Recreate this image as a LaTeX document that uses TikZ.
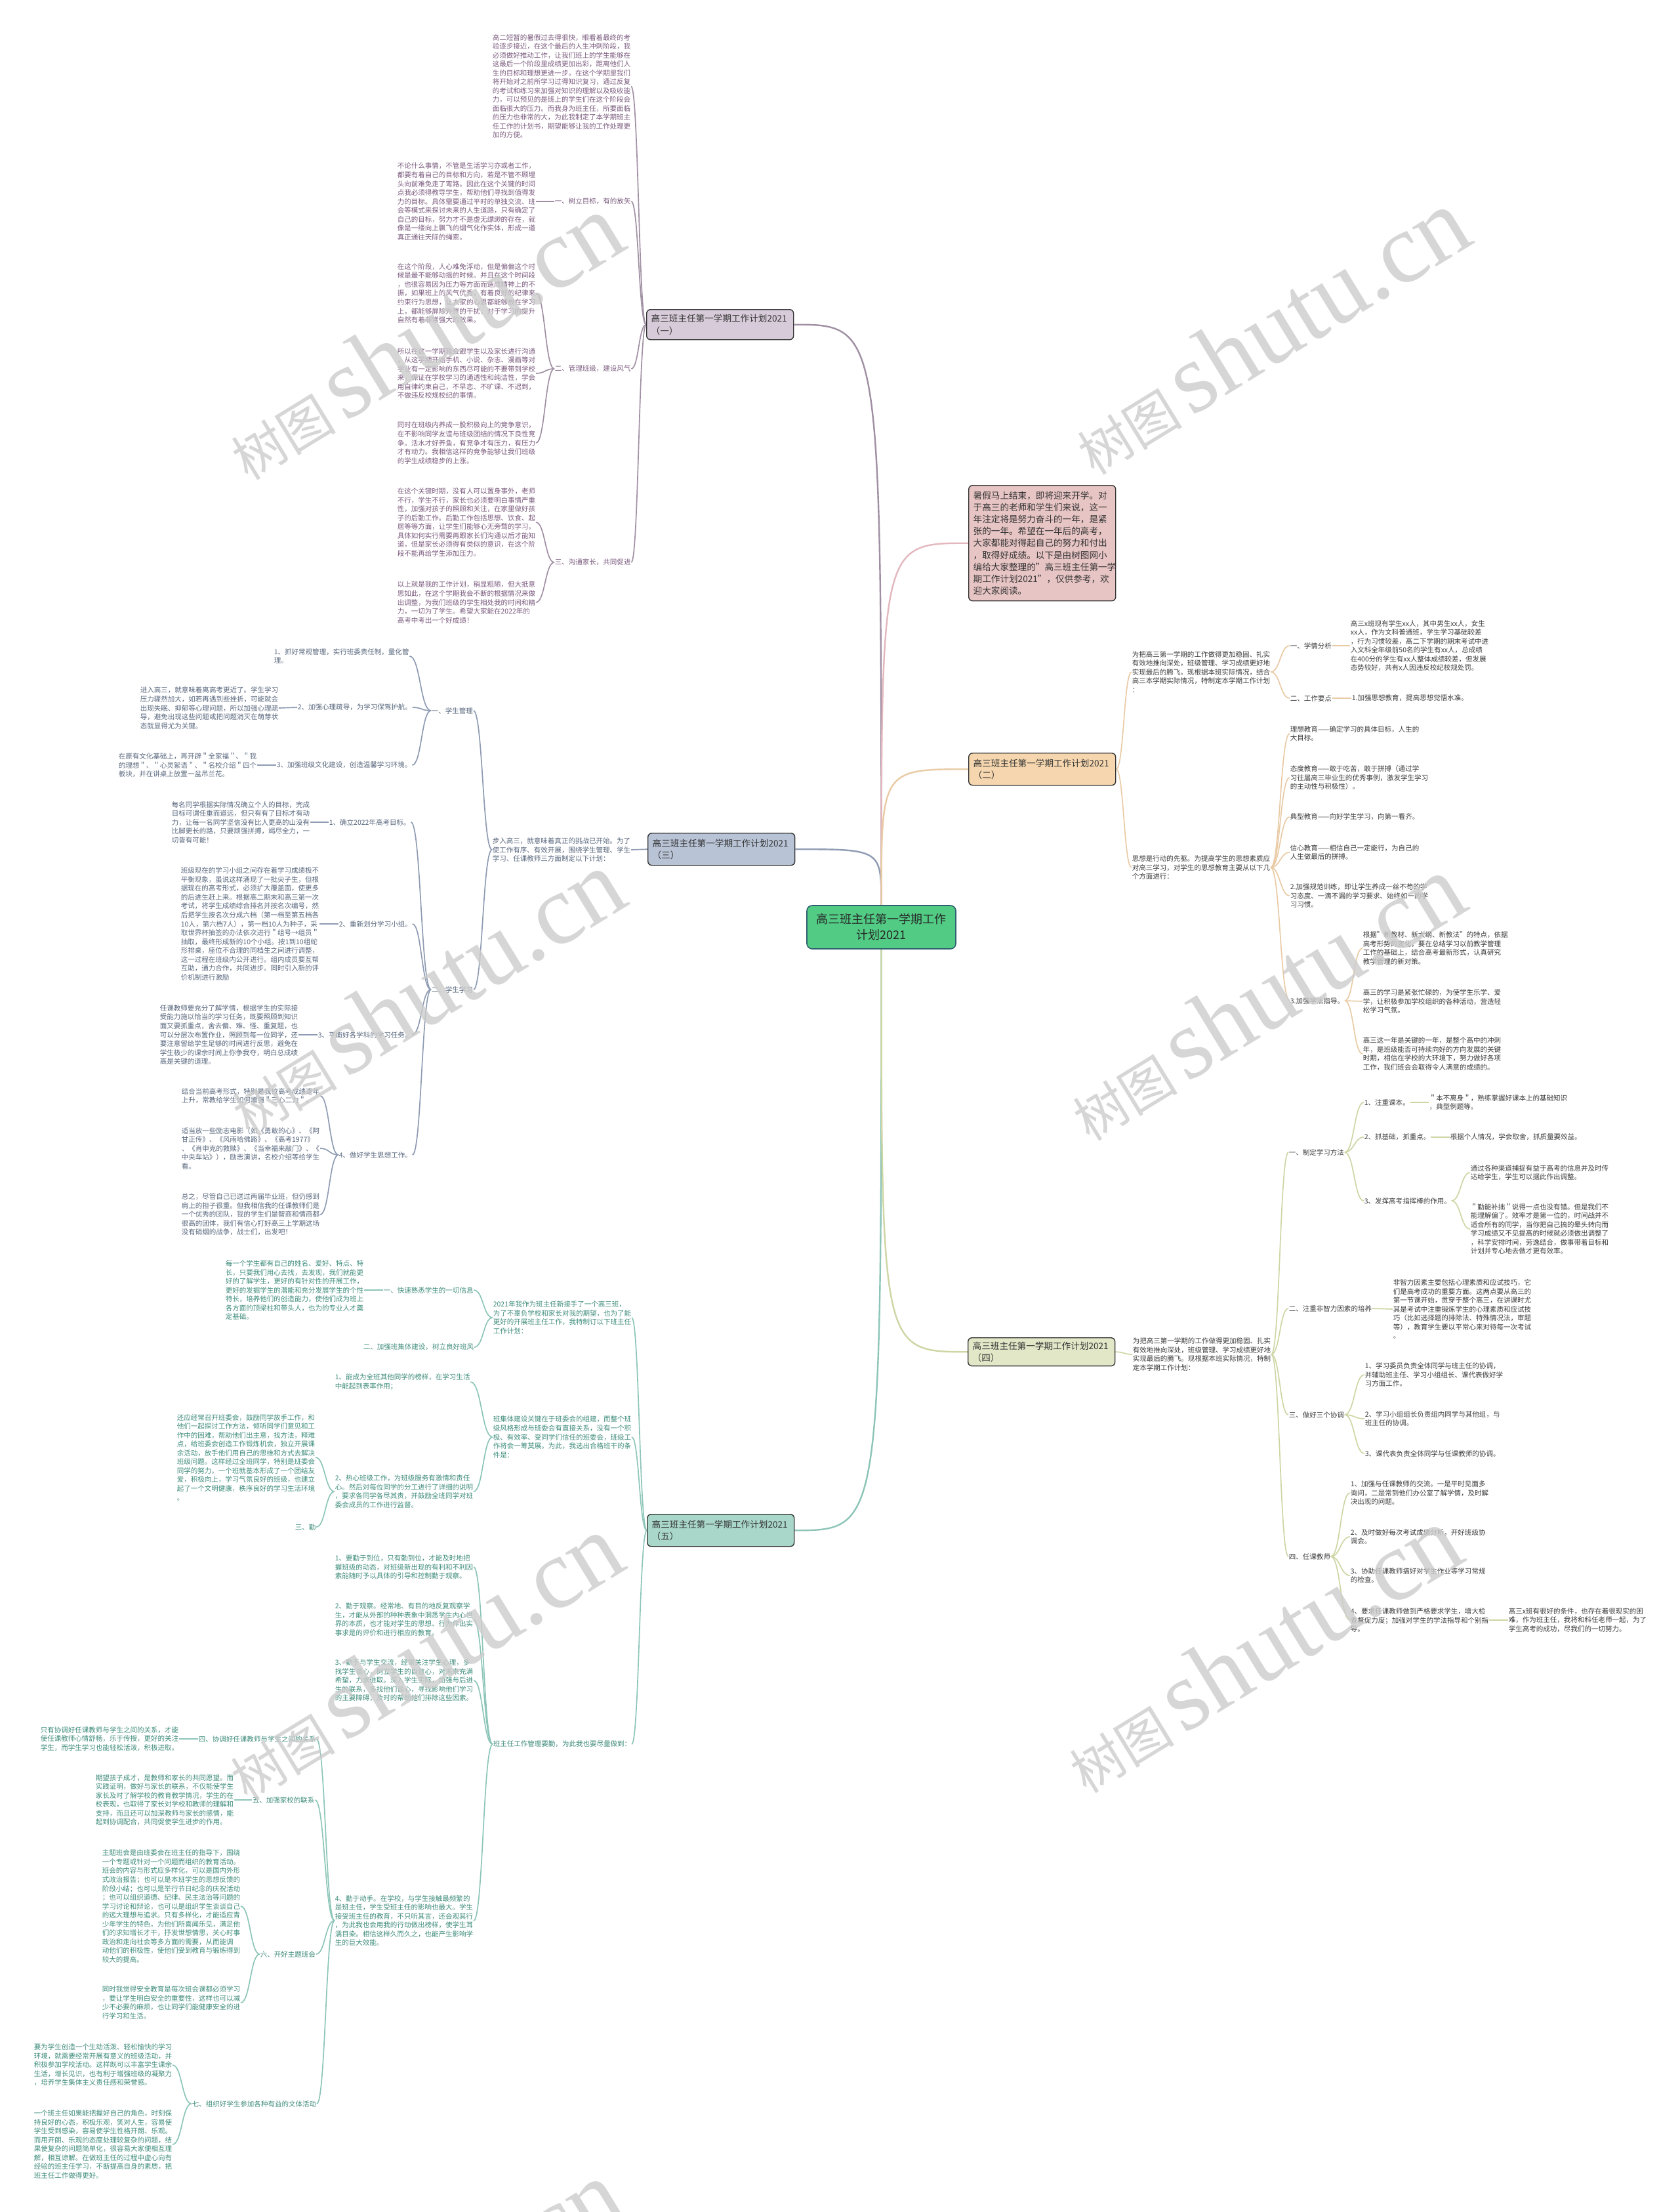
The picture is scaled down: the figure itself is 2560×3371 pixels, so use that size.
\documentclass[tikz,border=0pt]{standalone}
\usepackage{fontspec}
\setmainfont{Noto Sans CJK SC}
\newfontfamily\wmlat{Liberation Serif}
\usetikzlibrary{calc,backgrounds}
\definecolor{bordc}{HTML}{333333}
\definecolor{cgreen}{HTML}{52CB84}
\definecolor{cbord}{HTML}{2F6070}
\definecolor{pinkf}{HTML}{E8C5C5}
\definecolor{f1}{HTML}{D7CBD9}
\definecolor{f2}{HTML}{F5D6AE}
\definecolor{f3}{HTML}{B8C3D5}
\definecolor{f4}{HTML}{E1E7C7}
\definecolor{f5}{HTML}{A9D7CA}
\definecolor{l0}{HTML}{E2B8BE}
\definecolor{l1}{HTML}{A08FA3}
\definecolor{l2}{HTML}{E9CBA5}
\definecolor{l3}{HTML}{8E9BB2}
\definecolor{l4}{HTML}{CDD6A4}
\definecolor{l5}{HTML}{8CC5B8}
\definecolor{t1c}{HTML}{7B5B7E}
\definecolor{t2c}{HTML}{3C3C3C}
\definecolor{t3c}{HTML}{58677D}
\definecolor{t4c}{HTML}{3C3C3C}
\definecolor{t5c}{HTML}{3E8C7B}
\definecolor{wm}{HTML}{CCCCCC}
\newcommand\lnk[3]{\draw[#1] let \p1=(#2), \p2=(#3) in (\p1) .. controls ({(\x1+\x2)/2},\y1) and ({(\x1+\x2)/2},\y2) .. (\p2);}
\newcommand\lnkq[3]{\draw[#1] let \p1=(#2), \p2=(#3) in (\p1) .. controls (\x1,\y2) .. (\p2);}
\tikzset{
 tx/.style={inner sep=0pt, anchor=west, align=left, font=\fontsize{2.63}{3.38}\selectfont},
 ta/.style={tx, text=t1c}, tb/.style={tx, text=t2c}, tc/.style={tx, text=t3c},
 td/.style={tx, text=t4c}, te/.style={tx, text=t5c},
 bx/.style={draw=bordc, line width=0.35pt, rounded corners=1.5pt, inner xsep=1.75pt, inner ysep=0pt,
   anchor=north west, align=left, font=\fontsize{3.4}{4.6}\selectfont, text=bordc,
   minimum width=56pt, text width=52.5pt},
 cl/.style={line width=0.42pt},
 cc/.style={line width=0.6pt},
 wmk/.style={rotate=31.5, text=wm, opacity=0.8, inner sep=0pt}
}
\begin{document}
\begin{tikzpicture}[x=0.25pt,y=-0.25pt]
\useasboundingbox (0,0) rectangle (2560,3371);
% central
\node[draw=cbord, line width=0.4pt, fill=cgreen, rounded corners=2pt, minimum width=56.75pt, minimum height=16.5pt, align=center, font=\fontsize{4.5}{6}\selectfont, inner sep=0pt, text=black!85] (C) at (1343.5,1413) {高三班主任第一学期工作\\计划2021};
% boxes
\node[bx, fill=pinkf, minimum height=44pt, text width=52.5pt, font=\fontsize{3.4}{4.55}\selectfont] (P) at (1476,739) {暑假马上结束，即将迎来开学。对\\于高三的老师和学生们来说，这一\\年注定将是努力奋斗的一年，是紧\\张的一年。希望在一年后的高考，\\大家都能对得起自己的努力和付出\\，取得好成绩。以下是由树图网小\\编给大家整理的"高三班主任第一学\\期工作计划2021"，仅供参考，欢\\迎大家阅读。};
\node[bx, fill=f1, minimum height=11.5pt] (B1) at (985,471) {高三班主任第一学期工作计划2021\\（一）};
\node[bx, fill=f2, minimum height=12.25pt] (B2) at (1476,1147) {高三班主任第一学期工作计划2021\\（二）};
\node[bx, fill=f3, minimum height=12.25pt] (B3) at (987,1269) {高三班主任第一学期工作计划2021\\（三）};
\node[bx, fill=f4, minimum height=10.75pt] (B4) at (1475,2038) {高三班主任第一学期工作计划2021\\（四）};
\node[bx, fill=f5, minimum height=12.25pt] (B5) at (986,2307) {高三班主任第一学期工作计划2021\\（五）};

% ---------- branch 1 ----------
\node[ta] (a0) at (750,131.5) {高二短暂的暑假过去得很快，眼看着最终的考\\验逐步接近，在这个最后的人生冲刺阶段，我\\必须做好推动工作，让我们班上的学生能够在\\这最后一个阶段里成绩更加出彩，距离他们人\\生的目标和理想更进一步。在这个学期里我们\\将开始对之前所学习过得知识复习，通过反复\\的考试和练习来加强对知识的理解以及吸收能\\力，可以预见的是班上的学生们在这个阶段会\\面临很大的压力。而我身为班主任，所要面临\\的压力也非常的大，为此我制定了本学期班主\\任工作的计划书，期望能够让我的工作处理更\\加的方便。};
\node[ta] (a1) at (845,307) {一、树立目标，有的放矢};
\node[ta] (a1p) at (605,307) {不论什么事情，不管是生活学习亦或者工作，\\都要有着自己的目标和方向，若是不管不顾埋\\头向前难免走了弯路。因此在这个关键的时间\\点我必须得教导学生，帮助他们寻找到值得发\\力的目标。具体需要通过平时的单独交流、班\\会等模式来探讨未来的人生道路，只有确定了\\自己的目标，努力才不是虚无缥缈的存在，就\\像是一缕向上飘飞的烟气化作实体，形成一道\\真正通往天际的绳索。};
\node[ta] (a2) at (845,562) {二、管理班级，建设风气};
\node[ta] (a2p1) at (605,447) {在这个阶段，人心难免浮动，但是偏偏这个时\\候是最不能够动摇的时候。并且在这个时间段\\，也很容易因为压力等方面而造成精神上的不\\振，如果班上的风气优秀，有着良好的纪律来\\约束行为思想，让大家的心思都能够放在学习\\上，都能够屏除外界的干扰，对于学习的提升\\自然有着非常强大的效果。};
\node[ta] (a2p2) at (605,569) {所以在这一学期我会跟学生以及家长进行沟通\\，从这学期开始手机、小说、杂志、漫画等对\\学业有一定影响的东西尽可能的不要带到学校\\来，保证在学校学习的通透性和纯洁性，学会\\用自律约束自己，不早恋、不旷课、不迟到，\\不做违反校规校纪的事情。};
\node[ta] (a2p3) at (605,675) {同时在班级内养成一股积极向上的竞争意识，\\在不影响同学友谊与班级团结的情况下良性竞\\争。活水才好养鱼，有竞争才有压力，有压力\\才有动力。我相信这样的竞争能够让我们班级\\的学生成绩稳步的上涨。};
\node[ta] (a3) at (845,857) {三、沟通家长，共同促进};
\node[ta] (a3p1) at (605,796) {在这个关键时期，没有人可以置身事外，老师\\不行，学生不行，家长也必须要明白事情严重\\性，加强对孩子的照顾和关注，在家里做好孩\\子的后勤工作。后勤工作包括思想、饮食、起\\居等等方面，让学生们能够心无旁骛的学习。\\具体如何实行需要再跟家长们沟通以后才能知\\道，但是家长必须得有类似的意识，在这个阶\\段不能再给学生添加压力。};
\node[ta] (a3p2) at (605,918) {以上就是我的工作计划，稍显粗陋，但大抵意\\思如此，在这个学期我会不断的根据情况来做\\出调整，为我们班级的学生相处我的时间和精\\力，一切为了学生。希望大家能在2022年的\\高考中考出一个好成绩！};

% ---------- branch 2 ----------
\node[tb] (b1) at (1725,1024) {为把高三第一学期的工作做得更加稳固、扎实\\有效地推向深处，班级管理、学习成绩更好地\\实现最后的腾飞。现根据本班实际情况，结合\\高三本学期实际情况，特制定本学期工作计划\\：};
\node[tb] (b11) at (1966,984) {一、学情分析};
\node[tb] (b11p) at (2058,984) {高三x班现有学生xx人，其中男生xx人，女生\\xx人，作为文科普通班，学生学习基础较差\\，行为习惯较差，高二下学期的期末考试中进\\入文科全年级前50名的学生有xx人，总成绩\\在400分的学生有xx人整体成绩较差，但发展\\态势较好，共有x人因违反校纪校规处罚。};
\node[tb] (b12) at (1966,1064) {二、工作要点};
\node[tb] (b12p) at (2060,1064) {1.加强思想教育，提高思想觉悟水准。};
\node[tb] (b2) at (1725,1322) {思想是行动的先驱。为提高学生的思想素质应\\对高三学习，对学生的思想教育主要从以下几\\个方面进行：};
\node[tb] (b21) at (1966,1118) {理想教育——确定学习的具体目标，人生的\\大目标。};
\node[tb] (b22) at (1966,1185) {态度教育——敢于吃苦，敢于拼搏（通过学\\习往届高三毕业生的优秀事例，激发学生学习\\的主动性与积极性）。};
\node[tb] (b23) at (1966,1245) {典型教育——向好学生学习，向第一看齐。};
\node[tb] (b24) at (1966,1299) {信心教育——相信自己一定能行，为自己的\\人生做最后的拼搏。};
\node[tb] (b25) at (1966,1365) {2.加强规范训练，即让学生养成一丝不苟的学\\习态度、一滴不漏的学习要求、始终如一的学\\习习惯。};
\node[tb] (b26) at (1966,1525) {3.加强学法指导。};
\node[tb] (b261) at (2077,1445) {根据"新教材、新大纲、新教法"的特点，依据\\高考形势的变化，要在总结学习以前教学管理\\工作的基础上，结合高考最新形式，认真研究\\教学管理的新对策。};
\node[tb] (b262) at (2077,1526) {高三的学习是紧张忙碌的，为使学生乐学、爱\\学，让积极参加学校组织的各种活动，营造轻\\松学习气氛。};
\node[tb] (b263) at (2077,1606) {高三这一年是关键的一年，是整个高中的冲刺\\年，是班级能否可持续向好的方向发展的关键\\时期，相信在学校的大环境下，努力做好各项\\工作，我们班会会取得令人满意的成绩的。};

% ---------- branch 3 ----------
\node[tc] (c0) at (750,1295) {步入高三，就意味着真正的挑战已开始。为了\\使工作有序、有效开展，围绕学生管理、学生\\学习、任课教师三方面制定以下计划：};
\node[tc] (c1) at (657,1083) {一、学生管理};
\node[tc] (c11) at (417,1000) {1、抓好常规管理，实行班委责任制，量化管\\理。};
\node[tc] (c12) at (453,1078) {2、加强心理疏导，为学习保驾护航。};
\node[tc] (c12p) at (213,1079) {进入高三，就意味着离高考更近了。学生学习\\压力骤然加大，如若再遇到些挫折，可能就会\\出现失眠、抑郁等心理问题，所以加强心理疏\\导，避免出现这些问题或把问题消灭在萌芽状\\态就显得尤为关键。};
\node[tc] (c13) at (421,1166) {3、加强班级文化建设，创造温馨学习环境。};
\node[tc] (c13p) at (180,1166) {在原有文化基础上，再开辟＂全家福＂、＂我\\的理想＂、＂心灵絮语＂、＂名校介绍＂四个\\板块，并在讲桌上放置一盆吊兰花。};
\node[tc] (c2) at (657,1508) {二、学生学习};
\node[tc] (c21) at (501,1253) {1、确立2022年高考目标。};
\node[tc] (c21p) at (261,1253) {每名同学根据实际情况确立个人的目标，完成\\目标可谓任重而道远，但只有有了目标才有动\\力，让每一名同学坚信没有比人更高的山没有\\比脚更长的路，只要顽强拼搏，竭尽全力，一\\切皆有可能！};
\node[tc] (c22) at (516,1408) {2、重新划分学习小组。};
\node[tc] (c22p) at (275,1408) {班级现在的学习小组之间存在着学习成绩极不\\平衡现象，虽说这样涌现了一批尖子生，但根\\据现在的高考形式，必须扩大覆盖面，使更多\\的后进生赶上来。根据高二期末和高三第一次\\考试，将学生成绩综合排名并按名次编号，然\\后把学生按名次分成六档（第一档至第五档各\\10人，第六档7人），第一档10人为种子，采\\取世界杯抽签的办法依次进行＂组号→组员＂\\抽取，最终形成新的10个小组。按1到10组蛇\\形排桌，座位不合理的同档生之间进行调整，\\这一过程在班级内公开进行。组内成员要互帮\\互助，通力合作，共同进步。同时引入新的评\\价机制进行激励};
\node[tc] (c23) at (484,1577) {3、平衡好各学科的学习任务。};
\node[tc] (c23p) at (243,1577) {任课教师要充分了解学情，根据学生的实际接\\受能力施以恰当的学习任务，既要照顾到知识\\面又要抓重点，舍去偏、难、怪、重复题，也\\可以分层次布置作业，照顾到每一位同学，还\\要注意留给学生足够的时间进行反思，避免在\\学生极少的课余时间上你争我夺，明白总成绩\\高是关键的道理。};
\node[tc] (c24) at (516,1760) {4、做好学生思想工作。};
\node[tc] (c241) at (276,1670) {结合当前高考形式，特别是我校高考成绩逐年\\上升，常教给学生如何增强＂三心二力＂。};
\node[tc] (c242) at (276,1750) {适当放一些励志电影（如《勇敢的心》、《阿\\甘正传》、《风雨哈佛路》、《高考1977》\\、《肖申克的救赎》、《当幸福来敲门》、《\\中央车站》），励志演讲，名校介绍等给学生\\看。};
\node[tc] (c243) at (276,1851) {总之，尽管自己已送过两届毕业班，但仍感到\\肩上的担子很重。但我相信我的任课教师们是\\一个优秀的团队，我的学生们是智商和情商都\\很高的团体，我们有信心打好高三上学期这场\\没有硝烟的战争，战士们，出发吧！};

% ---------- branch 4 ----------
\node[td] (d0) at (1726,2064) {为把高三第一学期的工作做得更加稳固、扎实\\有效地推向深处，班级管理、学习成绩更好地\\实现最后的腾飞。现根据本班实际情况，特制\\定本学期工作计划：};
\node[td] (d1) at (1964,1756) {一、制定学习方法};
\node[td] (d11) at (2079,1680) {1、注重课本。};
\node[td] (d11p) at (2178,1680) {＂本不离身＂，熟练掌握好课本上的基础知识\\，典型例题等。};
\node[td] (d12) at (2079,1733) {2、抓基础，抓重点。};
\node[td] (d12p) at (2210,1733) {根据个人情况，学会取舍，抓质量要效益。};
\node[td] (d13) at (2079,1830) {3、发挥高考指挥棒的作用。};
\node[td] (d131) at (2241,1787) {通过各种渠道捕捉有益于高考的信息并及时传\\达给学生，学生可以据此作出调整。};
\node[td] (d132) at (2241,1873) {＂勤能补拙＂说得一点也没有错。但是我们不\\能理解偏了。效率才是第一位的，时间战并不\\适合所有的同学，当你把自己搞的晕头转向而\\学习成绩又不见提高的时候就必须做出调整了\\，科学安排时间，劳逸结合，做事带着目标和\\计划并专心地去做才更有效率。};
\node[td] (d2) at (1964,1994) {二、注重非智力因素的培养};
\node[td] (d2p) at (2123,1995) {非智力因素主要包括心理素质和应试技巧，它\\们是高考成功的重要方面。这两点要从高三的\\第一节课开始，贯穿于整个高三，在讲课时尤\\其是考试中注重锻炼学生的心理素质和应试技\\巧（比如选择题的排除法、特殊情况法，审题\\等），教育学生要以平常心来对待每一次考试\\。};
\node[td] (d3) at (1964,2156) {三、做好三个协调};
\node[td] (d31) at (2080,2095) {1、学习委员负责全体同学与班主任的协调，\\并辅助班主任、学习小组组长、课代表做好学\\习方面工作。};
\node[td] (d32) at (2080,2162) {2、学习小组组长负责组内同学与其他组，与\\班主任的协调。};
\node[td] (d33) at (2080,2215) {3、课代表负责全体同学与任课教师的协调。};
\node[td] (d4) at (1964,2372) {四、任课教师};
\node[td] (d41) at (2058,2275) {1、加强与任课教师的交流。一是平时见面多\\询问，二是常到他们办公室了解学情，及时解\\决出现的问题。};
\node[td] (d42) at (2058,2342) {2、及时做好每次考试成绩分析，开好班级协\\调会。};
\node[td] (d43) at (2058,2401) {3、协助任课教师搞好对学生作业等学习常规\\的检查。};
\node[td] (d44) at (2058,2469) {4、要求任课教师做到严格要求学生，增大检\\查督促力度；加强对学生的学法指导和个别指\\导。};
\node[td] (d44p) at (2299,2469) {高三x班有很好的条件，也存在着很现实的困\\难，作为班主任，我将和科任老师一起，为了\\学生高考的成功，尽我们的一切努力。};

% ---------- branch 5 ----------
\node[te] (e1) at (751,2008) {2021年我作为班主任新接手了一个高三班，\\为了不辜负学校和家长对我的期望，也为了能\\更好的开展班主任工作，我特制订以下班主任\\工作计划：};
\node[te] (e11) at (584,1966) {一、快速熟悉学生的一切信息};
\node[te] (e11p) at (343,1966) {每一个学生都有自己的姓名、爱好、特点、特\\长，只要我们用心去找，去发现，我们就能更\\好的了解学生，更好的有针对性的开展工作，\\更好的发掘学生的潜能和充分发展学生的个性\\特长，培养他们的创造能力，使他们成为班上\\各方面的顶梁柱和带头人，也为的专业人才奠\\定基础。};
\node[te] (e12) at (553,2053) {二、加强班集体建设，树立良好班风};
\node[te] (e2) at (751,2190) {班集体建设关键在于班委会的组建，而整个班\\级风格形成与班委会有直接关系，没有一个积\\极、有效率、受同学们信任的班委会，班级工\\作将会一筹莫展。为此，我选出合格班干的条\\件是：};
\node[te] (e21) at (510,2106) {1、能成为全班其他同学的榜样，在学习生活\\中能起到表率作用；};
\node[te] (e22) at (510,2273) {2、热心班级工作，为班级服务有激情和责任\\心。然后对每位同学的分工进行了详细的说明\\，要求各同学各尽其责，并鼓励全班同学对班\\委会成员的工作进行监督。};
\node[te] (e22p) at (269,2221) {还应经常召开班委会，鼓励同学放手工作，和\\他们一起探讨工作方法，倾听同学们意见和工\\作中的困难，帮助他们出主意，找方法，释难\\点，给班委会创造工作锻炼机会，独立开展课\\余活动，放手他们用自己的思维和方式去解决\\班级问题。这样经过全班同学，特别是班委会\\同学的努力，一个班就基本形成了一个团结友\\爱，积极向上，学习气氛良好的班级，也建立\\起了一个文明健康，秩序良好的学习生活环境\\。};
\node[te] (e22q) at (449,2327) {三、勤};
\node[te] (e3) at (751,2658) {班主任工作管理要勤，为此我也要尽量做到：};
\node[te] (e31) at (510,2388) {1、要勤于到位，只有勤到位，才能及时地把\\握班级的动态，对班级新出现的有利和不利因\\素能随时予以具体的引导和控制勤于观察。};
\node[te] (e32) at (510,2468) {2、勤于观察。经常地、有目的地反复观察学\\生，才能从外部的种种表象中洞悉学生内心世\\界的本质，也才能对学生的思想、行为作出实\\事求是的评价和进行相应的教育。};
\node[te] (e33) at (510,2561) {3、勤于与学生交流，经常关注学生心理，多\\找学生谈心，树立学生的自信心，对未来充满\\希望，力求进取。深入学生实际，加强与后进\\生的联系，多找他们谈心，寻找影响他们学习\\的主要障碍，及时的帮助他们排除这些因素。};
\node[te] (e34) at (510,2927) {4、勤于动手。在学校，与学生接触最频繁的\\是班主任，学生受班主任的影响也最大。学生\\接受班主任的教育，不只听其言，还会观其行\\，为此我也会用我的行动做出榜样，使学生耳\\濡目染。相信这样久而久之，也能产生影响学\\生的巨大效能。};
\node[te] (e341) at (302,2650) {四、协调好任课教师与学生之间的关系};
\node[te] (e341p) at (61,2650) {只有协调好任课教师与学生之间的关系，才能\\使任课教师心情舒畅，乐于传授，更好的关注\\学生，而学生学习也能轻松活泼，积极进取。};
\node[te] (e342) at (384,2743) {五、加强家校的联系};
\node[te] (e342p) at (145,2743) {期望孩子成才，是教师和家长的共同愿望。而\\实践证明，做好与家长的联系，不仅能使学生\\家长及时了解学校的教育教学情况，学生的在\\校表现，也取得了家长对学校和教师的理解和\\支持，而且还可以加深教师与家长的感情，能\\起到协调配合，共同促使学生进步的作用。};
\node[te] (e343) at (396,2978) {六、开好主题班会};
\node[te] (e343a) at (155,2905) {主题班会是由班委会在班主任的指导下，围绕\\一个专题或针对一个问题而组织的教育活动。\\班会的内容与形式应多样化，可以是国内外形\\式政治报告；也可以是本班学生的思想反馈的\\阶段小结；也可以是举行节日纪念的庆祝活动\\；也可以组织道德、纪律、民主法治等问题的\\学习讨论和辩论，也可以是组织学生谈谈自己\\的远大理想与追求。只有多样化，才能适应青\\少年学生的特色，为他们所喜闻乐见，满足他\\们的求知增长才干，抒发世想情思，关心时事\\政治和走向社会等多方面的需要，从而能调\\动他们的积极性，使他们受到教育与锻炼得到\\较大的提高。};
\node[te] (e343b) at (155,3052) {同时我觉得安全教育是每次班会课都必须学习\\，要让学生明白安全的重要性，这样也可以减\\少不必要的麻烦，也让同学们能健康安全的进\\行学习和生活。};
\node[te] (e344) at (292,3206) {七、组织好学生参加各种有益的文体活动};
\node[te] (e344a) at (51,3147) {要为学生创造一个生动活泼、轻松愉快的学习\\环境，就需要经常开展有意义的班级活动，并\\积极参加学校活动。这样既可以丰富学生课余\\生活，增长见识，也有利于增强班级的凝聚力\\，培养学生集体主义责任感和荣誉感。};
\node[te] (e344b) at (51,3268) {一个班主任如果能把握好自己的角色，时刻保\\持良好的心态，积极乐观，笑对人生，容易使\\学生受到感染，容易使学生性格开朗、乐观。\\而用开朗、乐观的态度处理较复杂的问题，结\\果使复杂的问题简单化，很容易大家便相互理\\解，相互谅解。在做班主任的过程中虚心向有\\经验的班主任学习，不断提高自身的素质，把\\班主任工作做得更好。};

% ---------- connectors ----------
\begin{scope}[on background layer]
\fill[white] (0,0) rectangle (2560,3371);
\lnkq{cc,l1}{C.north}{B1.east}
\lnkq{cc,l3}{C.north}{B3.east}
\lnkq{cc,l0}{C.north}{P.west}
\lnkq{cc,l2}{C.north}{B2.west}
\lnkq{cc,l5}{C.south}{B5.east}
\lnkq{cc,l4}{C.south}{B4.west}
% b1
\foreach \q in {a0,a1,a2,a3} {\lnk{cl,l1}{B1.west}{\q.east}}
\lnk{cl,l1}{a1.west}{a1p.east}
\foreach \q in {a2p1,a2p2,a2p3} {\lnk{cl,l1}{a2.west}{\q.east}}
\foreach \q in {a3p1,a3p2} {\lnk{cl,l1}{a3.west}{\q.east}}
% b2
\foreach \q in {b1,b2} {\lnk{cl,l2}{B2.east}{\q.west}}
\foreach \q in {b11,b12} {\lnk{cl,l2}{b1.east}{\q.west}}
\lnk{cl,l2}{b11.east}{b11p.west}
\lnk{cl,l2}{b12.east}{b12p.west}
\foreach \q in {b21,b22,b23,b24,b25,b26} {\lnk{cl,l2}{b2.east}{\q.west}}
\foreach \q in {b261,b262,b263} {\lnk{cl,l2}{b26.east}{\q.west}}
% b3
\lnk{cl,l3}{B3.west}{c0.east}
\foreach \q in {c1,c2} {\lnk{cl,l3}{c0.west}{\q.east}}
\foreach \q in {c11,c12,c13} {\lnk{cl,l3}{c1.west}{\q.east}}
\lnk{cl,l3}{c12.west}{c12p.east}
\lnk{cl,l3}{c13.west}{c13p.east}
\foreach \q in {c21,c22,c23,c24} {\lnk{cl,l3}{c2.west}{\q.east}}
\lnk{cl,l3}{c21.west}{c21p.east}
\lnk{cl,l3}{c22.west}{c22p.east}
\lnk{cl,l3}{c23.west}{c23p.east}
\foreach \q in {c241,c242,c243} {\lnk{cl,l3}{c24.west}{\q.east}}
% b4
\lnk{cl,l4}{B4.east}{d0.west}
\foreach \q in {d1,d2,d3,d4} {\lnk{cl,l4}{d0.east}{\q.west}}
\foreach \q in {d11,d12,d13} {\lnk{cl,l4}{d1.east}{\q.west}}
\lnk{cl,l4}{d11.east}{d11p.west}
\lnk{cl,l4}{d12.east}{d12p.west}
\foreach \q in {d131,d132} {\lnk{cl,l4}{d13.east}{\q.west}}
\lnk{cl,l4}{d2.east}{d2p.west}
\foreach \q in {d31,d32,d33} {\lnk{cl,l4}{d3.east}{\q.west}}
\foreach \q in {d41,d42,d43,d44} {\lnk{cl,l4}{d4.east}{\q.west}}
\lnk{cl,l4}{d44.east}{d44p.west}
% b5
\foreach \q in {e1,e2,e3} {\lnk{cl,l5}{B5.west}{\q.east}}
\foreach \q in {e11,e12} {\lnk{cl,l5}{e1.west}{\q.east}}
\lnk{cl,l5}{e11.west}{e11p.east}
\foreach \q in {e21,e22} {\lnk{cl,l5}{e2.west}{\q.east}}
\foreach \q in {e22p,e22q} {\lnk{cl,l5}{e22.west}{\q.east}}
\foreach \q in {e31,e32,e33,e34} {\lnk{cl,l5}{e3.west}{\q.east}}
\foreach \q in {e341,e342,e343,e344} {\lnk{cl,l5}{e34.west}{\q.east}}
\lnk{cl,l5}{e341.west}{e341p.east}
\lnk{cl,l5}{e342.west}{e342p.east}
\foreach \q in {e343a,e343b} {\lnk{cl,l5}{e343.west}{\q.east}}
\foreach \q in {e344a,e344b} {\lnk{cl,l5}{e344.west}{\q.east}}
\end{scope}

% ---------- watermarks ----------
\foreach \pp in {(644,513),(1934,505),(646,1513),(1927,1520),(643,2525),(1922,2513),(643,3510)} {
  \node[wmk] at \pp {\fontsize{20}{24}\selectfont 树图\,\wmlat\fontsize{38}{44}\selectfont shutu.cn};
}
\end{tikzpicture}
\end{document}
